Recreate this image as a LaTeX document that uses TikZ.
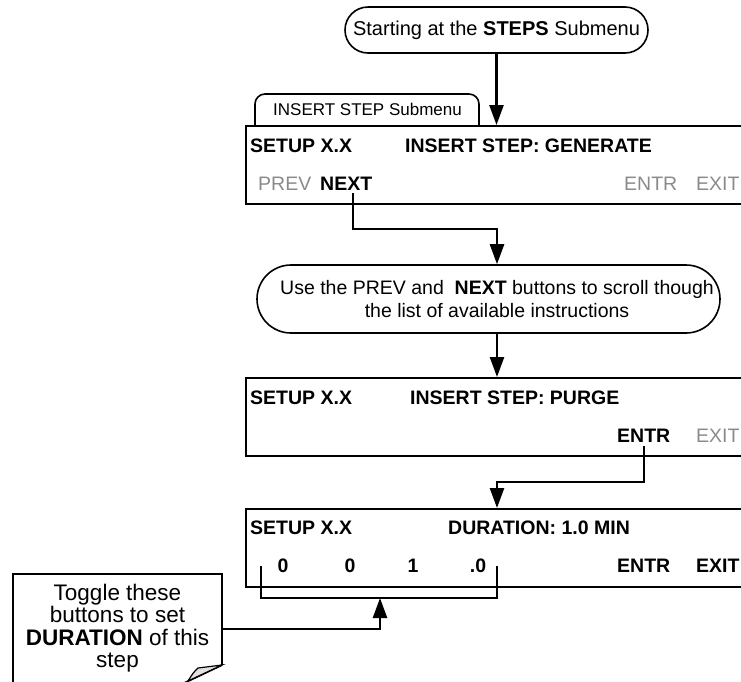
\documentclass[tikz,border=0pt]{standalone}
\usepackage{fontspec}
\setmainfont{Liberation Sans}
\usetikzlibrary{arrows.meta,calc}
\definecolor{btngray}{RGB}{138,138,138}
\definecolor{flapgray}{RGB}{225,225,225}
\begin{document}
\begin{tikzpicture}[x=1pt,y=-1pt,
  panel/.style={draw, line width=2.2pt, rectangle, inner sep=0pt, anchor=north west,
    minimum width=560pt, minimum height=78pt},
  oval/.style={draw, line width=1.6pt, inner sep=0pt},
  txt/.style={font=\fontsize{19.5}{22}\selectfont, inner sep=0pt, anchor=base west},
  btxt/.style={txt, font=\fontsize{19.5}{22}\selectfont\bfseries},
  gtxt/.style={txt, text=btngray},
  conn/.style={line width=2.5pt},
  arr/.style={conn, -{Triangle[length=20pt,width=14pt]}},
  shapeline/.style={line width=1.6pt}
]
\useasboundingbox (0,0) rectangle (741,681);
\clip (0,0) rectangle (741,681);

% top oval
\node[oval, minimum width=303pt, minimum height=46pt, rounded corners=23pt,
  font=\fontsize{20}{22}\selectfont] (o1) at (496.5,30) {Starting at the \textbf{STEPS} Submenu};

% tab
\draw[shapeline, rounded corners=10pt] (255,125) -- (255,94) -- (479,94) -- (479,125);
\node[font=\fontsize{17}{20}\selectfont, inner sep=0pt, anchor=base] (tab) at (367.5,115) {INSERT STEP Submenu};

% panel 1
\node[panel] (p1) at (245,125) {};
\node[btxt] (p1a) at (250,152) {SETUP X.X};
\node[btxt] (p1b) at (405,152) {INSERT STEP: GENERATE};
\node[gtxt] (pv) at (258,190) {PREV};
\node[btxt] (nx) at (320,190) {NEXT};
\node[gtxt] (e1) at (624,190) {ENTR};
\node[gtxt] (x1) at (696,190) {EXIT};

% oval 2
\node[oval, minimum width=463pt, minimum height=68pt, rounded corners=34pt] (o2) at (488.5,299) {};
\node[align=center, inner sep=0pt, font=\fontsize{19.5}{23}\selectfont] (o2t) at (497,299)
  {Use the PREV and~~\textbf{NEXT} buttons to scroll though\\the list of available instructions};

% panel 2
\node[panel] (p2) at (245,377) {};
\node[btxt] (p2a) at (250,404) {SETUP X.X};
\node[btxt] (p2b) at (410,404) {INSERT STEP: PURGE};
\node[btxt] (e2) at (617,442) {ENTR};
\node[gtxt] (x2) at (696,442) {EXIT};

% panel 3
\node[panel] (p3) at (245,508) {};
\node[btxt] (p3a) at (250,534) {SETUP X.X};
\node[btxt] (p3b) at (448,534) {DURATION: 1.0 MIN};
\node[btxt, anchor=base] (d1) at (283,572) {0};
\node[btxt, anchor=base] (d2) at (350,572) {0};
\node[btxt, anchor=base] (d3) at (413,572) {1};
\node[btxt, anchor=base] (d4) at (478,572) {.0};
\node[btxt] (e3) at (617,572) {ENTR};
\node[btxt] (x3) at (696,572) {EXIT};

% note
\draw[line width=1.8pt] (222,665) -- (222,574) -- (13,574) -- (13,700);
\draw[line width=1.8pt] (222,665) -- (180,685);
\filldraw[fill=flapgray, line width=1.2pt] (222,665) -- (198,668) .. controls (193,673) .. (188,681) -- cycle;
\node[align=center, inner sep=0pt, font=\fontsize{22.5}{22.5}\selectfont] (nt) at (117.5,628)
  {Toggle these\\buttons to set\\\textbf{DURATION} of this\\step};

% connectors
\draw[arr] (o1.south) -- (o1.south |- p1.north);
\coordinate (c1) at (497,229);
\draw[arr] ([xshift=7pt,yshift=-3pt]nx.south) |- (c1) -- (c1 |- o2.north);
\draw[arr] (c1 |- o2.south) -- (c1 |- p2.north);
\coordinate (c2) at (497,482);
\draw[arr] ([yshift=-4pt]e2.south) |- (c2) -- (c2 |- p3.north);

% bracket
\coordinate (bl) at (261,566);
\coordinate (br) at (497,566);
\coordinate (bb) at (380,598);
\draw[conn] (bl) |- (bb) -| (br);
\coordinate (nc) at (222,629);
\draw[arr] (nc) -| (bb);
\end{tikzpicture}
\end{document}
